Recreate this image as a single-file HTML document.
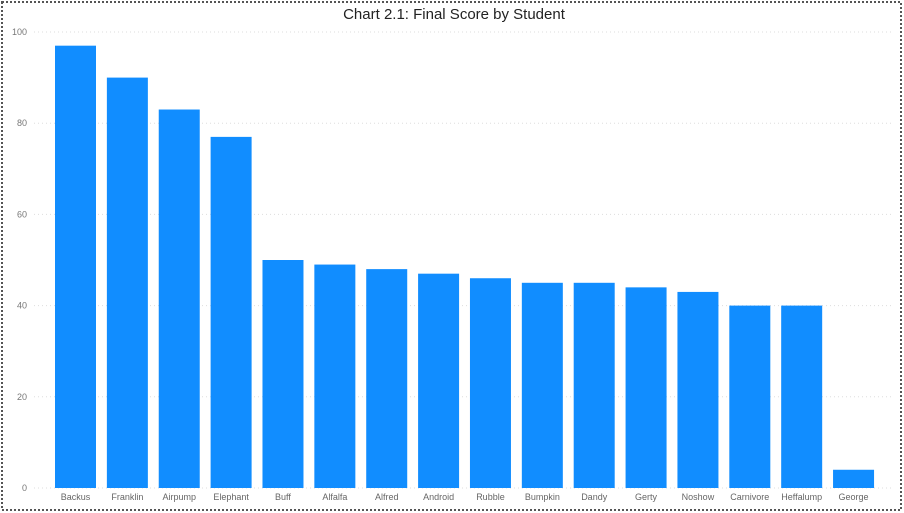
<!DOCTYPE html>
<html><head><meta charset="utf-8"><style>
body{margin:0;background:#fff;}
svg{display:block;font-family:"Liberation Sans",sans-serif;}
</style></head><body>
<svg id="chart" width="904" height="513">
<rect x="2" y="2" width="899" height="508" fill="none" stroke="#555" stroke-width="2" stroke-dasharray="2,2"/>
<text x="454" y="19" text-anchor="middle" font-size="15" fill="#222">Chart 2.1: Final Score by Student</text>
<g id="grid"></g><g id="bars"></g><g id="xlabels"></g>
</svg>
<script>
const students=["Backus","Franklin","Airpump","Elephant","Buff","Alfalfa","Alfred","Android","Rubble","Bumpkin","Dandy","Gerty","Noshow","Carnivore","Heffalump","George"];
const scores=[97,90,83,77,50,49,48,47,46,45,45,44,43,40,40,4];
const yTicks=[0,20,40,60,80,100];
const NS="http://www.w3.org/2000/svg";
const y0=488,y100=32,xStart=49.5,step=51.87,bw=41;
const y=v=>y0-(v/100)*(y0-y100);
const x=i=>xStart+i*step;
function mk(t,a,p){const e=document.createElementNS(NS,t);for(const k in a)e.setAttribute(k,a[k]);p.appendChild(e);return e;}
const grid=document.getElementById('grid');
yTicks.forEach(t=>{
 const l=mk('line',{x1:34,x2:893,y1:y(t),y2:y(t),stroke:'#ddd','stroke-dasharray':'1,3'},grid);
 
 
 const tx=mk('text',{x:27,y:y(t)+3,'text-anchor':'end','font-size':9,fill:'#777'},grid);
 tx.textContent=t;
 
 
});
const bars=document.getElementById('bars'),xl=document.getElementById('xlabels');
students.forEach((s,i)=>{
 const r=mk('rect',{x:x(i)+5.5,y:y(scores[i]),width:bw,height:y0-y(scores[i]),fill:'#118DFF'},bars);
 
 
 const t=mk('text',{x:x(i)+5.5+bw/2,y:500,'text-anchor':'middle','font-size':9,fill:'#666'},xl);
 t.textContent=s;
 
 
});
</script>
</body></html>
